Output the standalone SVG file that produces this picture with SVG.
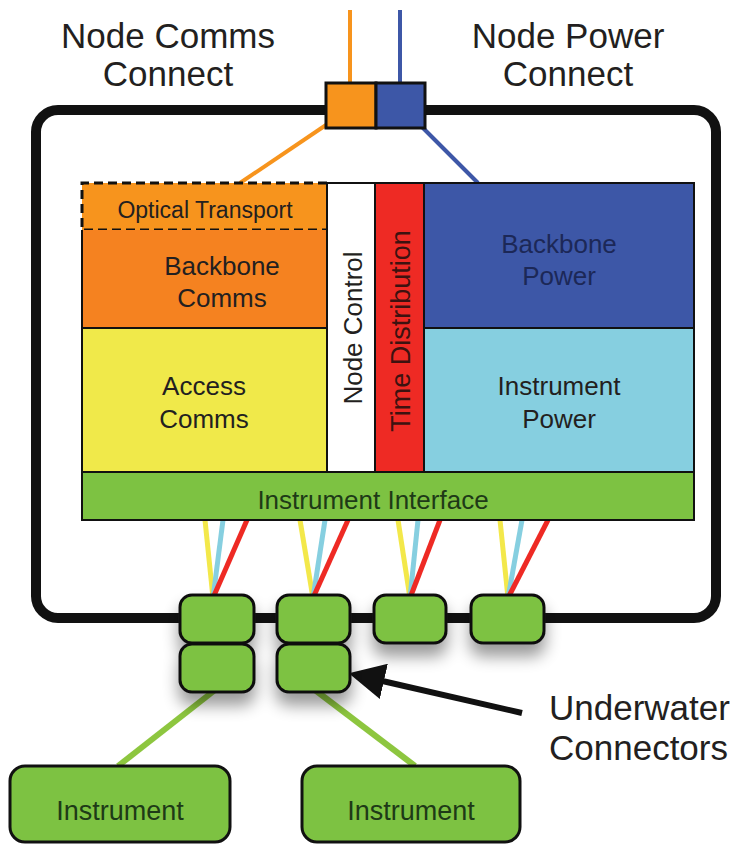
<svg xmlns="http://www.w3.org/2000/svg" width="736" height="846" viewBox="0 0 736 846">
<style>
text{font-family:"Liberation Sans",Arial,sans-serif;fill:#231f20;}
.big{font-size:35px;}
.mid{font-size:26px;text-anchor:middle;}
.cell{stroke:#111;stroke-width:2;}
.conn{fill:#7dc242;stroke:#111;stroke-width:3;}
.wy{stroke:#f3e84a;stroke-width:5;}
.wb{stroke:#86cfe0;stroke-width:5;}
.wr{stroke:#ee2a24;stroke-width:5;}
.gl{stroke:#8dc63f;stroke-width:6;}
</style>
<defs>
<filter id="sh" x="-40%" y="-40%" width="180%" height="200%">
<feGaussianBlur in="SourceAlpha" stdDeviation="8"/>
<feOffset dx="0" dy="12"/>
<feComponentTransfer><feFuncA type="linear" slope="0.4"/></feComponentTransfer>
<feMerge><feMergeNode/><feMergeNode in="SourceGraphic"/></feMerge>
</filter>
<marker id="ah" markerWidth="6" markerHeight="6" refX="1" refY="3" orient="auto-start-reverse" markerUnits="strokeWidth">
<path d="M0,0 L6,3 L0,6 Z" fill="#111"/>
</marker>
</defs>

<g id="labels">
<text class="big" x="168" y="48" text-anchor="middle">Node Comms</text>
<text class="big" x="168" y="86" text-anchor="middle">Connect</text>
<text class="big" x="568" y="48" text-anchor="middle">Node Power</text>
<text class="big" x="568" y="86" text-anchor="middle">Connect</text>
</g>

<g id="frame">
<rect x="36" y="110" width="680" height="508" rx="22" fill="none" stroke="#111" stroke-width="10"/>
</g>

<g id="connectors">
<line x1="350" y1="10" x2="350" y2="85" stroke="#f7941d" stroke-width="4"/>
<line x1="400" y1="10" x2="400" y2="85" stroke="#3d57a7" stroke-width="4"/>
<line x1="326" y1="125" x2="240" y2="183" stroke="#f7941d" stroke-width="4"/>
<line x1="420" y1="125" x2="478" y2="183" stroke="#3d57a7" stroke-width="4"/>
<line class="wy" x1="205" y1="520" x2="213" y2="598"/>
<line class="wb" x1="223" y1="520" x2="213" y2="598"/>
<line class="wr" x1="247" y1="520" x2="213" y2="598"/>
<line class="wy" x1="300" y1="520" x2="313" y2="598"/>
<line class="wb" x1="325" y1="520" x2="313" y2="598"/>
<line class="wr" x1="348" y1="520" x2="313" y2="598"/>
<line class="wy" x1="398" y1="520" x2="410" y2="598"/>
<line class="wb" x1="418" y1="520" x2="410" y2="598"/>
<line class="wr" x1="440" y1="520" x2="410" y2="598"/>
<line class="wy" x1="500" y1="520" x2="508" y2="598"/>
<line class="wb" x1="522" y1="520" x2="508" y2="598"/>
<line class="wr" x1="548" y1="520" x2="508" y2="598"/>
<line class="gl" x1="215" y1="690" x2="118" y2="766"/>
<line class="gl" x1="315" y1="690" x2="415" y2="766"/>
<line x1="522" y1="713" x2="378" y2="680" stroke="#111" stroke-width="6" marker-end="url(#ah)"/>
</g>

<g id="node-connect">
<rect x="326" y="83" width="50" height="45" fill="#f7941d" stroke="#111" stroke-width="3"/>
<rect x="376" y="83" width="49" height="45" fill="#3d57a7" stroke="#111" stroke-width="3"/>
</g>

<g id="optical-transport">
<rect x="82" y="183" width="245" height="47" fill="#f7941d"/>
<path d="M327,183 H82 V230 H327" fill="none" stroke="#111" stroke-width="3" stroke-dasharray="9,5"/>
<text x="205" y="218" style="font-size:23px;text-anchor:middle">Optical Transport</text>
</g>

<g id="backbone-comms">
<rect x="82" y="230" width="245" height="98" fill="#f58220"/>
<line x1="82" y1="230" x2="82" y2="328" stroke="#111" stroke-width="2"/>
<text class="mid" x="222" y="275">Backbone</text>
<text class="mid" x="222" y="307">Comms</text>
</g>

<g id="access-comms">
<rect class="cell" x="82" y="328" width="245" height="144" fill="#f0e94a"/>
<text class="mid" x="204" y="395">Access</text>
<text class="mid" x="204" y="428">Comms</text>
</g>

<g id="node-control">
<rect class="cell" x="327" y="183" width="48" height="289" fill="#ffffff"/>
<text class="mid" transform="translate(362,328) rotate(-90)">Node Control</text>
</g>

<g id="time-distribution">
<rect class="cell" x="375" y="183" width="49" height="289" fill="#ee2a24"/>
<text class="mid" transform="translate(410,331) rotate(-90)" style="font-size:27px;fill:#3d1210">Time Distribution</text>
</g>

<g id="backbone-power">
<rect class="cell" x="424" y="183" width="270" height="145" fill="#3d57a7"/>
<text class="mid" x="559" y="253" style="fill:#1c2857">Backbone</text>
<text class="mid" x="559" y="285" style="fill:#1c2857">Power</text>
</g>

<g id="instrument-power">
<rect class="cell" x="424" y="328" width="270" height="144" fill="#86cfe0"/>
<text class="mid" x="559" y="395">Instrument</text>
<text class="mid" x="559" y="428">Power</text>
</g>

<g id="instrument-interface">
<rect class="cell" x="82" y="472" width="612" height="48" fill="#7dc242"/>
<text class="mid" x="373" y="509" style="fill:#1e3a17">Instrument Interface</text>
</g>

<g id="underwater-connectors" filter="url(#sh)">
<rect class="conn" x="180" y="595" width="74" height="48" rx="12"/>
<rect class="conn" x="277" y="595" width="73" height="48" rx="12"/>
<rect class="conn" x="374" y="595" width="72" height="48" rx="12"/>
<rect class="conn" x="471" y="595" width="73" height="48" rx="12"/>
<rect class="conn" x="180" y="644" width="74" height="48" rx="12"/>
<rect class="conn" x="277" y="644" width="73" height="48" rx="12"/>
</g>

<g id="uw-label">
<text class="big" x="549" y="720">Underwater</text>
<text class="big" x="549" y="760">Connectors</text>
</g>

<g id="instrument-1">
<rect class="conn" x="10" y="766" width="220" height="76" rx="15"/>
<text class="mid" x="120" y="820" style="font-size:27px;fill:#1e3a17">Instrument</text>
</g>
<g id="instrument-2">
<rect class="conn" x="302" y="766" width="218" height="76" rx="15"/>
<text class="mid" x="411" y="820" style="font-size:27px;fill:#1e3a17">Instrument</text>
</g>
</svg>
